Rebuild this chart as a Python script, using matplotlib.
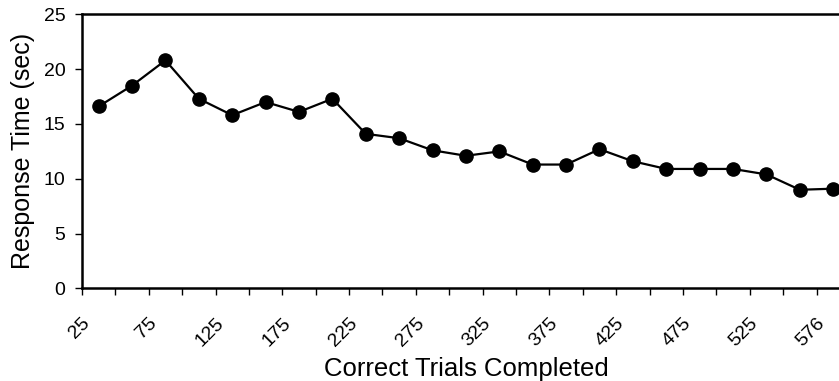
import matplotlib.pyplot as plt
import matplotlib.transforms as mtransforms

plt.rcParams['font.family'] = ['Liberation Sans', 'DejaVu Sans']

# Trials completed (category axis) and mean response time
trials = [25, 50, 75, 100, 125, 150, 175, 200, 225, 250, 275, 300,
          325, 350, 375, 400, 425, 450, 475, 500, 525, 550, 576]
response_time = [16.6, 18.5, 20.8, 17.3, 15.8, 17.0, 16.1, 17.3, 14.1, 13.7,
                 12.6, 12.1, 12.5, 11.3, 11.3, 12.7, 11.6, 10.9, 10.9, 10.9,
                 10.4, 9.0, 9.1]

fig = plt.figure(figsize=(8.39, 3.81), dpi=100)
ax = fig.add_axes([0.0977, 0.2428, 0.9153, 0.7197])

x = list(range(len(trials)))
ax.plot(x, response_time, color='black', lw=1.6, marker='o',
        markersize=9.5, markerfacecolor='black', markeredgecolor='black',
        clip_on=False, zorder=3)

ax.set_xlim(-0.5, len(trials) - 0.5)
ax.set_ylim(0, 25)
ax.set_yticks([0, 5, 10, 15, 20, 25])

# category-style ticks between points, labels on every other category
ax.set_xticks([i - 0.5 for i in range(len(trials) + 1)], minor=False)
ax.set_xticklabels([])
lab_pos = [i for i in range(len(trials)) if i % 2 == 0]
ax.set_xticks(lab_pos, minor=True)
ax.set_xticklabels([str(trials[i]) for i in lab_pos], minor=True,
                   rotation=45, fontsize=14, ha='right', va='center',
                   rotation_mode='anchor')
ax.tick_params(axis='x', which='minor', length=0, pad=23)
ax.tick_params(axis='x', which='major', length=5, width=1, direction='out')
ax.tick_params(axis='y', length=5, width=1, direction='out', labelsize=14, pad=7)

# nudge rotated labels to the left, like the original
shift = mtransforms.ScaledTranslation(-11 / 100, 0, fig.dpi_scale_trans)
for lbl in ax.get_xticklabels(minor=True):
    lbl.set_transform(lbl.get_transform() + shift)

for s in ['left', 'top', 'bottom']:
    ax.spines[s].set_linewidth(1.8)
ax.spines['right'].set_visible(False)

ax.set_ylabel('Response Time (sec)', fontsize=18, labelpad=6)
ax.set_xlabel('Correct Trials Completed', fontsize=18.5, labelpad=5)

fig.savefig('out.png', dpi=100)
